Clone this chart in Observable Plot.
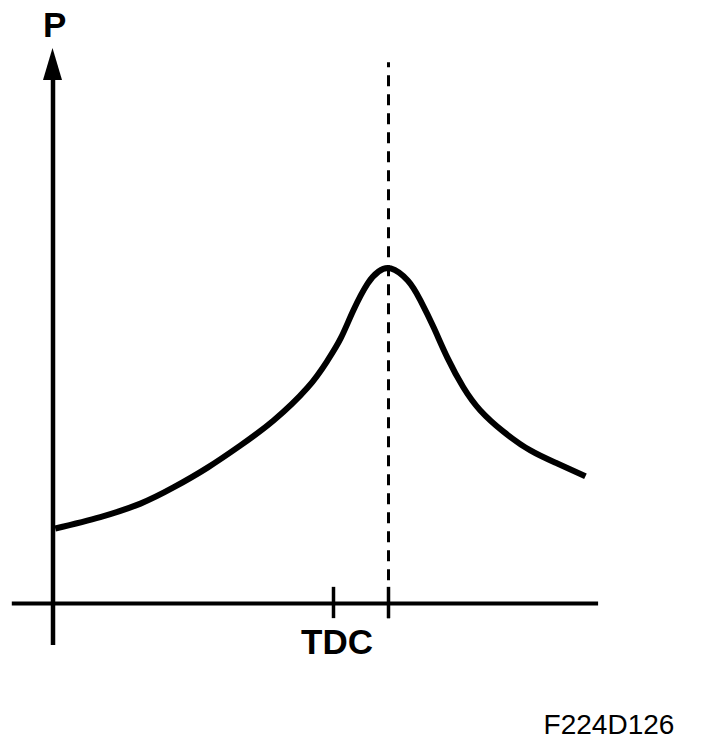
<!DOCTYPE html>
<html>
<head>
<meta charset="utf-8">
<script src="https://cdn.jsdelivr.net/npm/d3@7"></script>
<script src="https://cdn.jsdelivr.net/npm/@observablehq/plot@0.6"></script>
<style>
  html, body { margin: 0; padding: 0; background: #fff; overflow: hidden; }
  svg { display: block; }
</style>
</head>
<body>
<div id="chart"></div>
<script>
// Crank angle (degrees relative to TDC) and cylinder pressure (relative units, peak ≈ 100)
const crank    = [-50.6, -42.4, -35.1, -29.1, -22.9, -16.9, -10.9, -4.7, -1.1, 1.3, 3.6, 6.2, 8.2, 10.4, 13.5, 15.8, 18.2, 20.7, 23.6, 26.7, 30.9, 35.8, 40.7, 45.8];
const pressure = [ 22.3,  25.7,  29.7,  34.5,  40.4,  47.0,  54.4, 64.2, 72.2, 78.8, 87.1, 95.1, 98.7, 99.6, 96.0, 90.1, 82.1, 73.1, 64.3, 57.4, 51.1, 45.5, 41.6, 37.8];

// Reference positions on the crank-angle axis
const tdcAngle  = 0;     // TDC tick
const peakAngle = 10;    // peak-pressure marker (dashed line)
const tickLabels = ["TDC"];
const yAxisLabel = "P";
const figureCode = "F224D126";

// Axis frame extents (data units)
const yAxisAt = -51;
const xAxisFrom = -58.4, xAxisTo = 48.2;
const yAxisFrom = -12.5, yAxisTo = 155.5, arrowTip = 165, arrowHalf = 1.73;

const curve = crank.map((c, i) => ({angle: c, p: pressure[i]}));
const arrow = [
  {x: yAxisAt - arrowHalf, y: yAxisTo},
  {x: yAxisAt, y: arrowTip},
  {x: yAxisAt + arrowHalf, y: yAxisTo}
];

const chart = Plot.plot({
  width: 704,
  height: 746,
  margin: 0,
  style: {background: "#fff", color: "#000"},
  x: {domain: [0, 10], range: [333, 388], axis: null},
  y: {domain: [0, 165], range: [603, 48], axis: null},
  marks: [
    // dashed peak marker
    Plot.ruleX([peakAngle], {y1: 160.8, y2: -4.5, stroke: "#000", strokeWidth: 3, strokeDasharray: "11,8", strokeDashoffset: 6}),
    // y axis with arrow
    Plot.ruleX([yAxisAt], {y1: yAxisFrom, y2: yAxisTo, stroke: "#000", strokeWidth: 4.5}),
    Plot.areaY(arrow, {x: "x", y1: yAxisTo, y2: "y", fill: "#000", curve: "linear"}),
    // x axis
    Plot.ruleY([0], {x1: xAxisFrom, x2: xAxisTo, stroke: "#000", strokeWidth: 4}),
    // ticks
    Plot.ruleX([tdcAngle, peakAngle], {y1: 4.8, y2: -4.5, stroke: "#000", strokeWidth: 3.5}),
    // pressure curve
    Plot.line(curve, {x: "angle", y: "p", curve: "natural", stroke: "#000", strokeWidth: 6, strokeLinecap: "butt"}),
    // labels
    Plot.text(tickLabels, {x: [0.64], y: [-14.9], text: d => d, fontSize: 35, fontWeight: "bold", fontFamily: "Liberation Sans, Arial, sans-serif", lineAnchor: "bottom", textAnchor: "middle", fill: "#000"}),
    Plot.text([yAxisLabel], {x: [-50.7], y: [168.3], text: d => d, fontSize: 35, fontWeight: "bold", fontFamily: "Liberation Sans, Arial, sans-serif", lineAnchor: "bottom", textAnchor: "middle", fill: "#000"}),
    Plot.text([figureCode], {x: [38.2], y: [-38.65], text: d => d, fontSize: 28, fontFamily: "Liberation Sans, Arial, sans-serif", lineAnchor: "bottom", textAnchor: "start", fill: "#000"})
  ]
});
document.getElementById("chart").appendChild(chart);
</script>
</body>
</html>
